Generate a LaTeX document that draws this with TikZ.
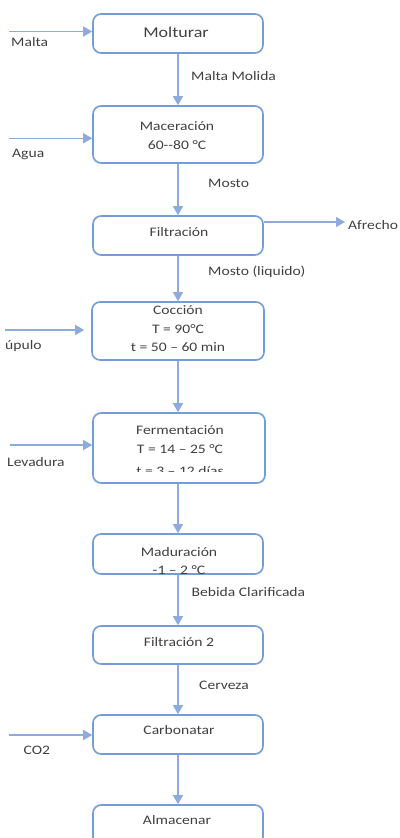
\documentclass[tikz,border=0pt]{standalone}
\usepackage{fontspec}
\setmainfont{Carlito}[FakeStretch=1.2]
\usetikzlibrary{arrows.meta}

\definecolor{boxblue}{RGB}{114,156,218}
\definecolor{flowblue}{RGB}{141,171,221}
\definecolor{txtgray}{RGB}{64,64,64}

\begin{document}
\begin{tikzpicture}[x=1pt,y=-1pt,
    flow/.style={draw=flowblue,line width=1.3pt,-{Triangle[length=9pt,width=10pt]}},
    tag/.style={anchor=west,inner sep=0pt,text=txtgray,font=\fontsize{13}{16}\selectfont}]

      \path[use as bounding box,clip] (0,0) rectangle (399,838);

      % process boxes
      \begin{scope}[every node/.style={draw=boxblue,line width=1.6pt,rounded corners=8pt,
          minimum width=170pt,inner sep=0pt}]
        \node[minimum height=39pt] (molt)  at (178,33.5) {};
        \node[minimum height=57pt] (mac)   at (178,134.5) {};
        \node[minimum height=39pt] (filt)  at (178,235.5) {};
        \node[minimum height=58pt,minimum width=172pt] (cocc)  at (178,331) {};
        \node[minimum height=70pt,minimum width=172pt] (ferm)  at (179,448) {};
        \node[minimum height=40pt] (madur) at (178,554) {};
        \node[minimum height=38pt] (filt2) at (178,645) {};
        \node[minimum height=39pt] (carb)  at (178,734.5) {};
        \node[minimum height=40pt] (alm)   at (178,825) {};
      \end{scope}

      % box texts
      \begin{scope}[every node/.style={text=txtgray,align=center,inner sep=0pt,
          font=\fontsize{13}{18.6}\selectfont}]
        \node[font=\fontsize{15}{18}\selectfont] (moltt) at (176,32) {Molturar};
        \node (mact)   at (177,135.5) {Maceración\\60-{}-80 °C};
        \node (filtt)  at (179,232) {Filtración};
        \node (cocct)  at (178,328.7) {Cocción\\T = 90°C\\t = 50 – 60 min};
        \node (fermt)  at (180,439.5) {Fermentación\\T = 14 – 25 °C};
        \begin{scope}
          \clip (94,458) rectangle (266,471.5);
          \node (fermc) at (180,471) {t = 3 – 12 días};
        \end{scope}
        \node (madurt) at (179,561) {Maduración\\-1 – 2 °C};
        \node (filt2t) at (179,642) {Filtración 2};
        \node (carbt)  at (179,730) {Carbonatar};
        \node (almt)   at (177,820) {Almacenar};
      \end{scope}

      % main line
      \draw[flow] (molt.south)  -- (mac.north);
      \draw[flow] (mac.south)   -- (filt.north);
      \draw[flow] (filt.south)  -- (cocc.north);
      \draw[flow] (cocc.south)  -- (cocc.south |- ferm.north);
      \draw[flow] (cocc.south |- ferm.south) -- (madur.north);
      \draw[flow] (madur.south) -- (filt2.north);
      \draw[flow] (filt2.south) -- (carb.north);
      \draw[flow] (carb.south)  -- (alm.north);

      % inputs and outputs
      \coordinate (malta)  at (9,31.5);
      \coordinate (agua)   at (9,138.3);
      \coordinate (afre)   at (345,222);
      \coordinate (lupulo) at (5,330);
      \coordinate (leva)   at (10,445);
      \coordinate (co2)    at (9,735);

      \draw[flow] (malta)  -- (molt.west |- malta);
      \draw[flow] (agua)   -- (mac.west |- agua);
      \draw[flow] (filt.east |- afre) -- (afre);
      \draw[flow,shorten >=7pt] (lupulo) -- (cocc.west |- lupulo);
      \draw[flow] (leva)   -- (ferm.west |- leva);
      \draw[flow] (co2)    -- (carb.west |- co2);

      % stream labels
      \node[tag] (maltal) at (11,42)    {Malta};
      \node[tag] (molil)  at (191,76)   {Malta Molida};
      \node[tag] (agual)  at (12,154.5) {Agua};
      \node[tag] (mostl)  at (208,183.5) {Mosto};
      \node[tag] (afrel)  at (348,225)  {Afrecho};
      \node[tag] (liql)   at (208,272)  {Mosto (liquido)};
      \node[tag] (lupl)   at (5,345.7)  {úpulo};
      \node[tag] (leval)  at (7,462.5)  {Levadura};
      \node[tag] (bebl)   at (191.5,592.3) {Bebida Clarificada};
      \node[tag] (cervl)  at (199,685.7) {Cerveza};
      \node[tag] (co2l)   at (23.5,750.7) {CO2};

    \end{tikzpicture}
\end{document}
